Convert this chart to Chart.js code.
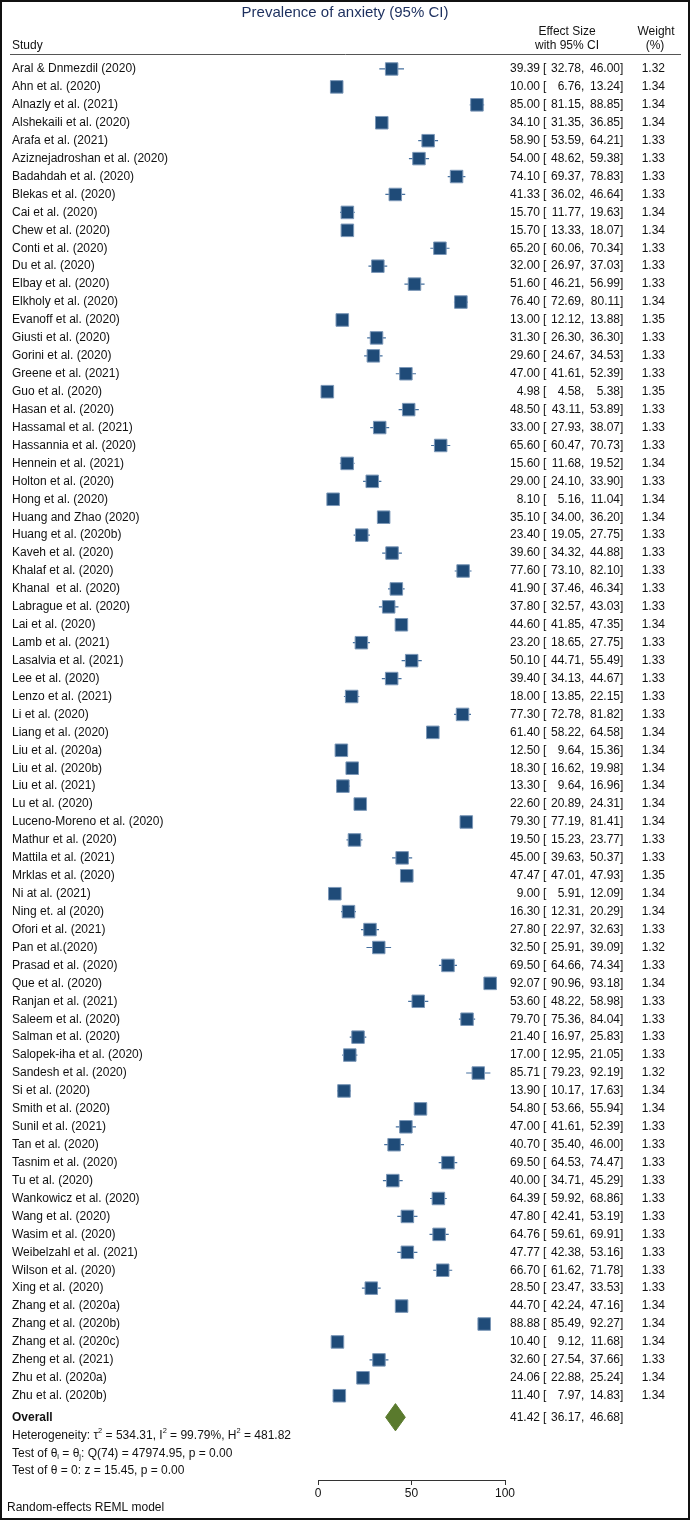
<!DOCTYPE html>
<html>
<head>
<meta charset="utf-8">
<title>Prevalence of anxiety</title>
<script src="https://cdn.jsdelivr.net/npm/chart.js@4.4.0/dist/chart.umd.min.js"></script>
<style>
    html, body { margin: 0; padding: 0; background: #fff; }
    #wrap { position: relative; width: 690px; height: 1521px; }
    #frame { position: absolute; left: 0; top: 0; width: 690px; height: 1520px; box-sizing: border-box; border: 2px solid #111; pointer-events: none; }
</style>
</head>
<body>
<div id="wrap">
    <canvas id="forest" width="690" height="1521"></canvas>
    <div id="frame"></div>
</div>
<script>
// Estudios y estimaciones
const studies = [
    'Aral & Dnmezdil (2020)', 'Ahn et al. (2020)', 'Alnazly et al. (2021)', 'Alshekaili et al. (2020)',
    'Arafa et al. (2021)', 'Aziznejadroshan et al. (2020)', 'Badahdah et al. (2020)', 'Blekas et al. (2020)',
    'Cai et al. (2020)', 'Chew et al. (2020)', 'Conti et al. (2020)', 'Du et al. (2020)',
    'Elbay et al. (2020)', 'Elkholy et al. (2020)', 'Evanoff et al. (2020)', 'Giusti et al. (2020)',
    'Gorini et al. (2020)', 'Greene et al. (2021)', 'Guo et al. (2020)', 'Hasan et al. (2020)',
    'Hassamal et al. (2021)', 'Hassannia et al. (2020)', 'Hennein et al. (2021)', 'Holton et al. (2020)',
    'Hong et al. (2020)', 'Huang and Zhao (2020)', 'Huang et al. (2020b)', 'Kaveh et al. (2020)',
    'Khalaf et al. (2020)', 'Khanal  et al. (2020)', 'Labrague et al. (2020)', 'Lai et al. (2020)',
    'Lamb et al. (2021)', 'Lasalvia et al. (2021)', 'Lee et al. (2020)', 'Lenzo et al. (2021)',
    'Li et al. (2020)', 'Liang et al. (2020)', 'Liu et al. (2020a)', 'Liu et al. (2020b)',
    'Liu et al. (2021)', 'Lu et al. (2020)', 'Luceno-Moreno et al. (2020)', 'Mathur et al. (2020)',
    'Mattila et al. (2021)', 'Mrklas et al. (2020)', 'Ni at al. (2021)', 'Ning et. al (2020)',
    'Ofori et al. (2021)', 'Pan et al.(2020)', 'Prasad et al. (2020)', 'Que et al. (2020)',
    'Ranjan et al. (2021)', 'Saleem et al. (2020)', 'Salman et al. (2020)', 'Salopek-iha et al. (2020)',
    'Sandesh et al. (2020)', 'Si et al. (2020)', 'Smith et al. (2020)', 'Sunil et al. (2021)',
    'Tan et al. (2020)', 'Tasnim et al. (2020)', 'Tu et al. (2020)', 'Wankowicz et al. (2020)',
    'Wang et al. (2020)', 'Wasim et al. (2020)', 'Weibelzahl et al. (2021)', 'Wilson et al. (2020)',
    'Xing et al. (2020)', 'Zhang et al. (2020a)', 'Zhang et al. (2020b)', 'Zhang et al. (2020c)',
    'Zheng et al. (2021)', 'Zhu et al. (2020a)', 'Zhu et al. (2020b)'
];

const effect = [
    39.39, 10.00, 85.00, 34.10, 58.90, 54.00, 74.10, 41.33, 15.70, 15.70, 65.20, 32.00, 51.60, 76.40, 13.00,
    31.30, 29.60, 47.00, 4.98, 48.50, 33.00, 65.60, 15.60, 29.00, 8.10, 35.10, 23.40, 39.60, 77.60, 41.90,
    37.80, 44.60, 23.20, 50.10, 39.40, 18.00, 77.30, 61.40, 12.50, 18.30, 13.30, 22.60, 79.30, 19.50, 45.00,
    47.47, 9.00, 16.30, 27.80, 32.50, 69.50, 92.07, 53.60, 79.70, 21.40, 17.00, 85.71, 13.90, 54.80, 47.00,
    40.70, 69.50, 40.00, 64.39, 47.80, 64.76, 47.77, 66.70, 28.50, 44.70, 88.88, 10.40, 32.60, 24.06, 11.40
];

const lower = [
    32.78, 6.76, 81.15, 31.35, 53.59, 48.62, 69.37, 36.02, 11.77, 13.33, 60.06, 26.97, 46.21, 72.69, 12.12,
    26.30, 24.67, 41.61, 4.58, 43.11, 27.93, 60.47, 11.68, 24.10, 5.16, 34.00, 19.05, 34.32, 73.10, 37.46,
    32.57, 41.85, 18.65, 44.71, 34.13, 13.85, 72.78, 58.22, 9.64, 16.62, 9.64, 20.89, 77.19, 15.23, 39.63,
    47.01, 5.91, 12.31, 22.97, 25.91, 64.66, 90.96, 48.22, 75.36, 16.97, 12.95, 79.23, 10.17, 53.66, 41.61,
    35.40, 64.53, 34.71, 59.92, 42.41, 59.61, 42.38, 61.62, 23.47, 42.24, 85.49, 9.12, 27.54, 22.88, 7.97
];

const upper = [
    46.00, 13.24, 88.85, 36.85, 64.21, 59.38, 78.83, 46.64, 19.63, 18.07, 70.34, 37.03, 56.99, 80.11, 13.88,
    36.30, 34.53, 52.39, 5.38, 53.89, 38.07, 70.73, 19.52, 33.90, 11.04, 36.20, 27.75, 44.88, 82.10, 46.34,
    43.03, 47.35, 27.75, 55.49, 44.67, 22.15, 81.82, 64.58, 15.36, 19.98, 16.96, 24.31, 81.41, 23.77, 50.37,
    47.93, 12.09, 20.29, 32.63, 39.09, 74.34, 93.18, 58.98, 84.04, 25.83, 21.05, 92.19, 17.63, 55.94, 52.39,
    46.00, 74.47, 45.29, 68.86, 53.19, 69.91, 53.16, 71.78, 33.53, 47.16, 92.27, 11.68, 37.66, 25.24, 14.83
];

const weights = [
    1.32, 1.34, 1.34, 1.34, 1.33, 1.33, 1.33, 1.33, 1.34, 1.34, 1.33, 1.33, 1.33, 1.34, 1.35,
    1.33, 1.33, 1.33, 1.35, 1.33, 1.33, 1.33, 1.34, 1.33, 1.34, 1.34, 1.33, 1.33, 1.33, 1.33,
    1.33, 1.34, 1.33, 1.33, 1.33, 1.33, 1.33, 1.34, 1.34, 1.34, 1.34, 1.34, 1.34, 1.33, 1.33,
    1.35, 1.34, 1.34, 1.33, 1.32, 1.33, 1.34, 1.33, 1.33, 1.33, 1.33, 1.32, 1.34, 1.34, 1.33,
    1.33, 1.33, 1.33, 1.33, 1.33, 1.33, 1.33, 1.33, 1.33, 1.34, 1.34, 1.34, 1.33, 1.34, 1.34
];

// Efecto global y estadísticos
const overallES = 41.42;
const overallLo = 36.17;
const overallHi = 46.68;
const tau2 = '534.31', i2 = '99.79%', h2 = '481.82';
const qDf = 74, qStat = '47974.95', qP = '0.00';
const zStat = '15.45', zP = '0.00';

const xTicks = [0, 50, 100];

// Constantes de dibujo
const FONT = "'Liberation Sans', Arial, Helvetica, sans-serif";
const TXT = '#111';
const SQ_COLOR = '#1f4b78';
const CI_COLOR = '#45709f';
const DIAMOND = '#5a7a2d';
const overallRow = studies.length + 0.2;

function fmt(v) { return v.toFixed(2); }

// Segmentos de los intervalos de confianza (cortes con null)
const ciPoints = [];
studies.forEach((s, i) => {
    ciPoints.push({ x: lower[i], y: i }, { x: upper[i], y: i }, { x: null, y: null });
});

const diamondPoints = [
    { x: overallLo, y: overallRow },
    { x: overallES, y: overallRow - 0.76 },
    { x: overallHi, y: overallRow },
    { x: overallES, y: overallRow + 0.76 },
    { x: overallLo, y: overallRow }
];

// Texto con super/subíndices
function drawRich(ctx, parts, x, y, size) {
    let cx = x;
    parts.forEach(([t, mode]) => {
        let dy = 0, fs = size;
        if (mode === 'sup') { fs = size * 0.62; dy = -5; }
        if (mode === 'sub') { fs = size * 0.62; dy = 3; }
        ctx.font = `${fs}px ${FONT}`;
        ctx.fillText(t, cx, y + dy);
        cx += ctx.measureText(t).width;
    });
}

const forestText = {
    id: 'forestText',
    afterDraw(chart) {
        const ctx = chart.ctx;
        const ys = chart.scales.y;
        ctx.save();
        ctx.fillStyle = TXT;
        ctx.textBaseline = 'middle';

        // Título
        ctx.font = `15px ${FONT}`;
        ctx.fillStyle = '#1c2f5e';
        ctx.textAlign = 'center';
        ctx.fillText('Prevalence of anxiety (95% CI)', 345, 13);

        // Encabezados
        ctx.fillStyle = TXT;
        ctx.font = `12px ${FONT}`;
        ctx.fillText('Effect Size', 567, 32);
        ctx.fillText('with 95% CI', 567, 46);
        ctx.fillText('Weight', 656, 32);
        ctx.fillText('(%)', 655, 46);
        ctx.textAlign = 'left';
        ctx.fillText('Study', 12, 46);

        ctx.strokeStyle = '#555';
        ctx.lineWidth = 1;
        ctx.beginPath();
        ctx.moveTo(10, 54.5);
        ctx.lineTo(681, 54.5);
        ctx.stroke();

        const drawCI = (es, lo, hi, py) => {
            ctx.textAlign = 'right';
            ctx.fillText(fmt(es), 540, py);
            ctx.textAlign = 'left';
            ctx.fillText('[', 543, py);
            ctx.textAlign = 'right';
            ctx.fillText(fmt(lo), 581, py);
            ctx.textAlign = 'left';
            ctx.fillText(',', 581, py);
            ctx.textAlign = 'right';
            ctx.fillText(fmt(hi), 620, py);
            ctx.textAlign = 'left';
            ctx.fillText(']', 620, py);
        };

        // Filas de estudios
        studies.forEach((s, i) => {
            const py = ys.getPixelForValue(i);
            ctx.font = `12px ${FONT}`;
            ctx.textAlign = 'left';
            ctx.fillText(s, 12, py);
            drawCI(effect[i], lower[i], upper[i], py);
            ctx.textAlign = 'right';
            ctx.fillText(fmt(weights[i]), 665, py);
        });

        // Global
        const oy = ys.getPixelForValue(overallRow);
        ctx.font = `bold 12px ${FONT}`;
        ctx.textAlign = 'left';
        ctx.fillText('Overall', 12, oy);
        ctx.font = `12px ${FONT}`;
        drawCI(overallES, overallLo, overallHi, oy);

        ctx.textAlign = 'left';
        drawRich(ctx, [['Heterogeneity: τ', null], ['2', 'sup'], [` = ${tau2}, I`, null], ['2', 'sup'],
            [` = ${i2}, H`, null], ['2', 'sup'], [` = ${h2}`, null]], 12, 1436, 12);
        drawRich(ctx, [['Test of θ', null], ['i', 'sub'], [' = θ', null], ['j', 'sub'],
            [`: Q(${qDf}) = ${qStat}, p = ${qP}`, null]], 12, 1454, 12);
        drawRich(ctx, [[`Test of θ = 0: z = ${zStat}, p = ${zP}`, null]], 12, 1471, 12);

        ctx.font = `12px ${FONT}`;
        ctx.fillText('Random-effects REML model', 7, 1508);
        ctx.restore();
    }
};

new Chart(document.getElementById('forest'), {
    type: 'scatter',
    data: {
        datasets: [
            {
                label: 'Estudios',
                data: effect.map((v, i) => ({ x: v, y: i })),
                pointStyle: 'rect',
                pointRadius: ctx => 12.5 * Math.sqrt(weights[ctx.dataIndex] / 1.33) / (2 * Math.SQRT1_2),
                backgroundColor: SQ_COLOR,
                borderColor: '#7c98b8',
                borderWidth: 1,
                order: 1
            },
            {
                type: 'line',
                label: 'IC 95%',
                data: ciPoints,
                borderColor: CI_COLOR,
                borderWidth: 1.2,
                pointRadius: 0,
                spanGaps: false,
                fill: false,
                order: 2
            },
            {
                type: 'line',
                label: 'Global',
                data: diamondPoints,
                borderColor: DIAMOND,
                backgroundColor: DIAMOND,
                borderWidth: 1,
                pointRadius: 0,
                tension: 0,
                fill: 'shape',
                order: 0
            }
        ]
    },
    options: {
        responsive: false,
        animation: false,
        events: [],
        layout: { padding: { left: 318, right: 185, top: 60, bottom: 0 } },
        plugins: {
            legend: { display: false },
            tooltip: { enabled: false },
            title: { display: false }
        },
        scales: {
            x: {
                type: 'linear',
                min: 0,
                max: 100,
                afterBuildTicks: s => { s.ticks = xTicks.map(v => ({ value: v })); },
                afterFit: s => { s.height = 41; },
                grid: { drawOnChartArea: false, drawTicks: true, tickLength: 5, color: '#333' },
                border: { display: true, color: '#333', width: 1 },
                ticks: { padding: 1, color: TXT, font: { family: FONT, size: 12 } }
            },
            y: {
                type: 'linear',
                display: false,
                reverse: true,
                min: -0.5,
                max: 78.7
            }
        }
    },
    plugins: [forestText]
});
</script>
</body>
</html>
